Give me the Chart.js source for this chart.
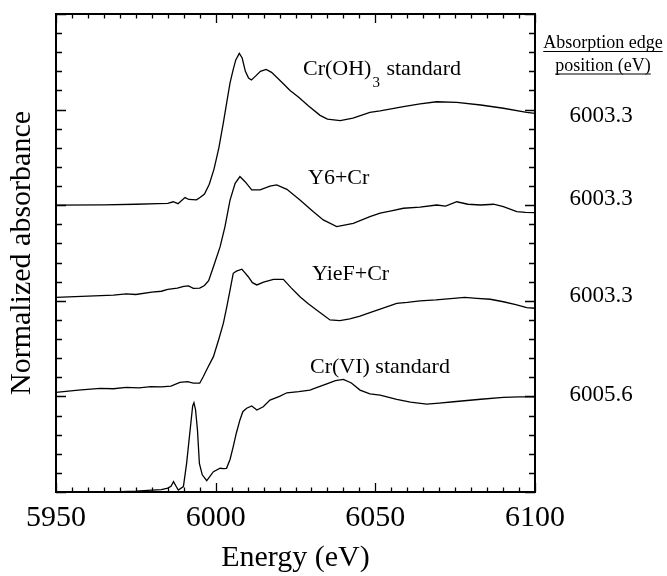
<!DOCTYPE html>
<html>
<head>
<meta charset="utf-8">
<script src="https://cdn.jsdelivr.net/npm/chart.js@4.4.1/dist/chart.umd.min.js"></script>
<style>
  html, body { margin:0; padding:0; background:#fff; }
  #wrap { width:667px; height:576px; }
</style>
</head>
<body>
<div id="wrap"><canvas id="xanes" width="667" height="576"></canvas></div>
<script>
// ── DATA (energy in eV, normalized absorbance incl. vertical offset) ──
var xTicks = [5950, 6000, 6050, 6100];

var crOH3E = [5950, 5965, 5975, 5982, 5985, 5986.7, 5988.2, 5990.4, 5991.6, 5994, 5995.2, 5996.5, 5998, 5999.5, 6001, 6002.4, 6003.5, 6004.5, 6005.5, 6006.3, 6007.4, 6008.3, 6009.3, 6010.3, 6011.2, 6012.5, 6014, 6015.8, 6017.5, 6020, 6023.3, 6026, 6029, 6032.7, 6035, 6039, 6043, 6048.3, 6051.5, 6058.8, 6064, 6069.2, 6075.5, 6083, 6090.1, 6097.4, 6100];
var crOH3Y = [15.0, 15.02, 15.05, 15.08, 15.1, 15.18, 15.08, 15.4, 15.3, 15.28, 15.42, 15.58, 16.1, 16.9, 18.0, 19.3, 20.4, 21.4, 22.1, 22.6, 22.94, 22.7, 22.0, 21.65, 21.55, 21.75, 22.0, 22.1, 21.95, 21.55, 21.0, 20.65, 20.2, 19.7, 19.5, 19.42, 19.55, 19.86, 19.93, 20.15, 20.3, 20.41, 20.38, 20.24, 20.07, 19.86, 19.8];

var y6E = [5950, 5960, 5968, 5972, 5975, 5980, 5983, 5985, 5988, 5990, 5991.5, 5993, 5995, 5996.5, 5997.8, 5999.3, 6001.4, 6002.9, 6004.5, 6006.1, 6007.6, 6009.2, 6011.3, 6013.9, 6017, 6019.1, 6022.3, 6026.4, 6030.6, 6033.7, 6037.9, 6043.1, 6048.3, 6051.5, 6055, 6058.8, 6064, 6069.2, 6072, 6075.5, 6079, 6083, 6087, 6090.1, 6094.3, 6097, 6100];
var y6Y = [10.18, 10.24, 10.3, 10.36, 10.33, 10.45, 10.5, 10.6, 10.66, 10.75, 10.78, 10.65, 10.66, 10.8, 11.05, 11.78, 12.83, 13.87, 15.27, 16.14, 16.5, 16.23, 15.8, 15.8, 16.0, 16.06, 15.83, 15.27, 14.66, 14.23, 13.88, 14.05, 14.4, 14.58, 14.7, 14.84, 14.9, 15.01, 14.95, 15.18, 15.05, 15.01, 15.05, 14.92, 14.66, 14.62, 14.61];

var yiefE = [5950, 5957, 5963.8, 5968, 5972, 5976, 5979.7, 5983, 5986, 5988.8, 5991.2, 5993, 5995, 5996.1, 5997.5, 5999.3, 6001, 6002.4, 6003.5, 6004.5, 6005.5, 6006.5, 6008.2, 6009, 6010.2, 6011.5, 6012.9, 6015, 6018.1, 6021.2, 6023.5, 6026.4, 6029, 6031.6, 6035.8, 6038.9, 6042, 6045.2, 6048.3, 6051.5, 6056.7, 6060, 6064, 6069, 6074.5, 6078, 6081.8, 6086, 6090.1, 6094, 6097.4, 6100];
var yiefY = [5.21, 5.33, 5.42, 5.4, 5.47, 5.45, 5.51, 5.5, 5.54, 5.73, 5.77, 5.69, 5.69, 6.03, 6.5, 7.08, 8.0, 8.82, 9.7, 10.56, 11.44, 11.55, 11.65, 11.5, 11.26, 10.95, 10.83, 10.98, 11.12, 11.12, 10.7, 10.21, 9.85, 9.52, 9.0, 8.96, 9.05, 9.2, 9.38, 9.56, 9.87, 9.92, 10.0, 10.05, 10.13, 10.18, 10.13, 10.08, 9.95, 9.8, 9.64, 9.61];

var crVIE = [5970, 5975, 5980, 5983, 5985, 5986, 5986.8, 5987.6, 5988.3, 5989.9, 5990.9, 5992, 5992.8, 5993.2, 5993.7, 5994.3, 5994.9, 5995.8, 5997.2, 5999.3, 6001.4, 6002.5, 6003.4, 6004.5, 6005.5, 6006.5, 6007.6, 6008.5, 6009.7, 6011.3, 6012.9, 6014.9, 6017, 6020, 6022.3, 6026, 6029.5, 6032, 6034.8, 6037.5, 6040, 6042.5, 6045.2, 6048.3, 6051.5, 6056.7, 6061, 6066.1, 6070, 6074.5, 6083, 6090.1, 6095, 6100];
var crVIY = [0.02, 0.05, 0.1, 0.12, 0.2, 0.3, 0.54, 0.3, 0.1, 0.28, 1.5, 3.24, 4.5, 4.67, 4.3, 3.24, 1.5, 0.9, 0.59, 1.06, 1.24, 1.22, 1.24, 1.7, 2.37, 3.1, 3.77, 4.2, 4.38, 4.5, 4.29, 4.46, 4.81, 5.0, 5.19, 5.25, 5.33, 5.48, 5.65, 5.82, 5.89, 5.7, 5.33, 5.13, 5.07, 4.85, 4.7, 4.6, 4.65, 4.72, 4.85, 4.95, 4.97, 4.98];

var edgeValues = ['6003.3', '6003.3', '6003.3', '6005.6'];

var SERIF = '"Liberation Serif", "Times New Roman", serif';

function pts(xs, ys) {
  return xs.map(function(x, i){ return { x: x, y: ys[i] }; });
}
function line(data) {
  return { data: data, borderColor: '#000', borderWidth: 1.3, pointRadius: 0, showLine: true, tension: 0, fill: false };
}

// ── FRAME, INWARD TICKS AND ANNOTATIONS ──
var decor = {
  id: 'decor',
  afterDraw: function(chart) {
    var ctx = chart.ctx, a = chart.chartArea;
    var xs = chart.scales.x, ys = chart.scales.y;
    ctx.save();
    ctx.strokeStyle = '#000';
    ctx.lineWidth = 1.3;
    ctx.beginPath();
    for (var e = 5950; e <= 6100; e += 5) {
      var px = Math.round(xs.getPixelForValue(e)) + 0.5;
      var len = (e % 50 === 0) ? 9 : 4.5;
      ctx.moveTo(px, a.bottom); ctx.lineTo(px, a.bottom - len);
      ctx.moveTo(px, a.top); ctx.lineTo(px, a.top + len);
    }
    for (var v = 0; v <= 25; v++) {
      var py = Math.round(ys.getPixelForValue(v)) + 0.5;
      var l2 = (v % 5 === 0) ? 10 : 6;
      ctx.moveTo(a.left, py); ctx.lineTo(a.left + l2, py);
      ctx.moveTo(a.right, py); ctx.lineTo(a.right - l2, py);
    }
    ctx.stroke();
    ctx.lineWidth = 2;
    ctx.strokeRect(a.left, a.top, a.right - a.left, a.bottom - a.top);

    // curve labels
    ctx.fillStyle = '#000';
    ctx.textBaseline = 'alphabetic';
    ctx.textAlign = 'left';
    ctx.font = '22px ' + SERIF;
    var x0 = 303;
    ctx.fillText('Cr(OH)', x0, 75);
    var w = ctx.measureText('Cr(OH)').width;
    ctx.font = '15px ' + SERIF;
    ctx.fillText('3', x0 + w + 1, 87);
    var w3 = ctx.measureText('3').width;
    ctx.font = '22px ' + SERIF;
    ctx.fillText(' standard', x0 + w + w3 + 2, 75);
    ctx.fillText('Y6+Cr', 308, 184);
    ctx.fillText('YieF+Cr', 312, 280);
    ctx.fillText('Cr(VI) standard', 310, 373);

    // edge position column
    ctx.textAlign = 'center';
    var cx = 603;
    ctx.font = '18px ' + SERIF;
    ctx.lineWidth = 1;
    [['Absorption edge', 48, 51.5], ['position (eV)', 70.5, 74]].forEach(function(h) {
      ctx.fillText(h[0], cx, h[1]);
      var hw = ctx.measureText(h[0]).width;
      ctx.beginPath();
      ctx.moveTo(cx - hw / 2, h[2]); ctx.lineTo(cx + hw / 2, h[2]);
      ctx.stroke();
    });
    ctx.font = '23px ' + SERIF;
    var vy = [122, 205, 302, 401];
    edgeValues.forEach(function(t, i){ ctx.fillText(t, 601, vy[i]); });
    ctx.restore();
  }
};

// ── CHART ──
new Chart(document.getElementById('xanes').getContext('2d'), {
  type: 'scatter',
  data: {
    datasets: [
      line(pts(crOH3E, crOH3Y)),
      line(pts(y6E, y6Y)),
      line(pts(yiefE, yiefY)),
      line(pts(crVIE, crVIY))
    ]
  },
  options: {
    responsive: false, animation: false, devicePixelRatio: 1,
    layout: { padding: { top: 14, right: 132, left: 0, bottom: 0 } },
    plugins: { legend: { display: false }, tooltip: { enabled: false } },
    scales: {
      x: {
        type: 'linear', min: 5950, max: 6100,
        border: { display: false },
        grid: { display: false, drawTicks: false },
        afterBuildTicks: function(s) { s.ticks = xTicks.map(function(v){ return { value: v }; }); },
        ticks: {
          autoSkip: false, maxRotation: 0, padding: 8, color: '#000', font: { family: SERIF, size: 30 },
          callback: function(v) { return String(v); }
        },
        title: { display: true, text: 'Energy (eV)', color: '#000', padding: { top: 0, bottom: 0 }, font: { family: SERIF, size: 30 } },
        afterFit: function(s) { s.height = 84; }
      },
      y: {
        type: 'linear', min: 0, max: 25,
        border: { display: false },
        grid: { display: false, drawTicks: false },
        ticks: { display: false },
        title: { display: true, text: 'Normalized absorbance', color: '#000', padding: { top: 4, bottom: 0 }, font: { family: SERIF, size: 30 } },
        afterFit: function(s) { s.width = 56; }
      }
    }
  },
  plugins: [decor]
});
</script>
</body>
</html>
